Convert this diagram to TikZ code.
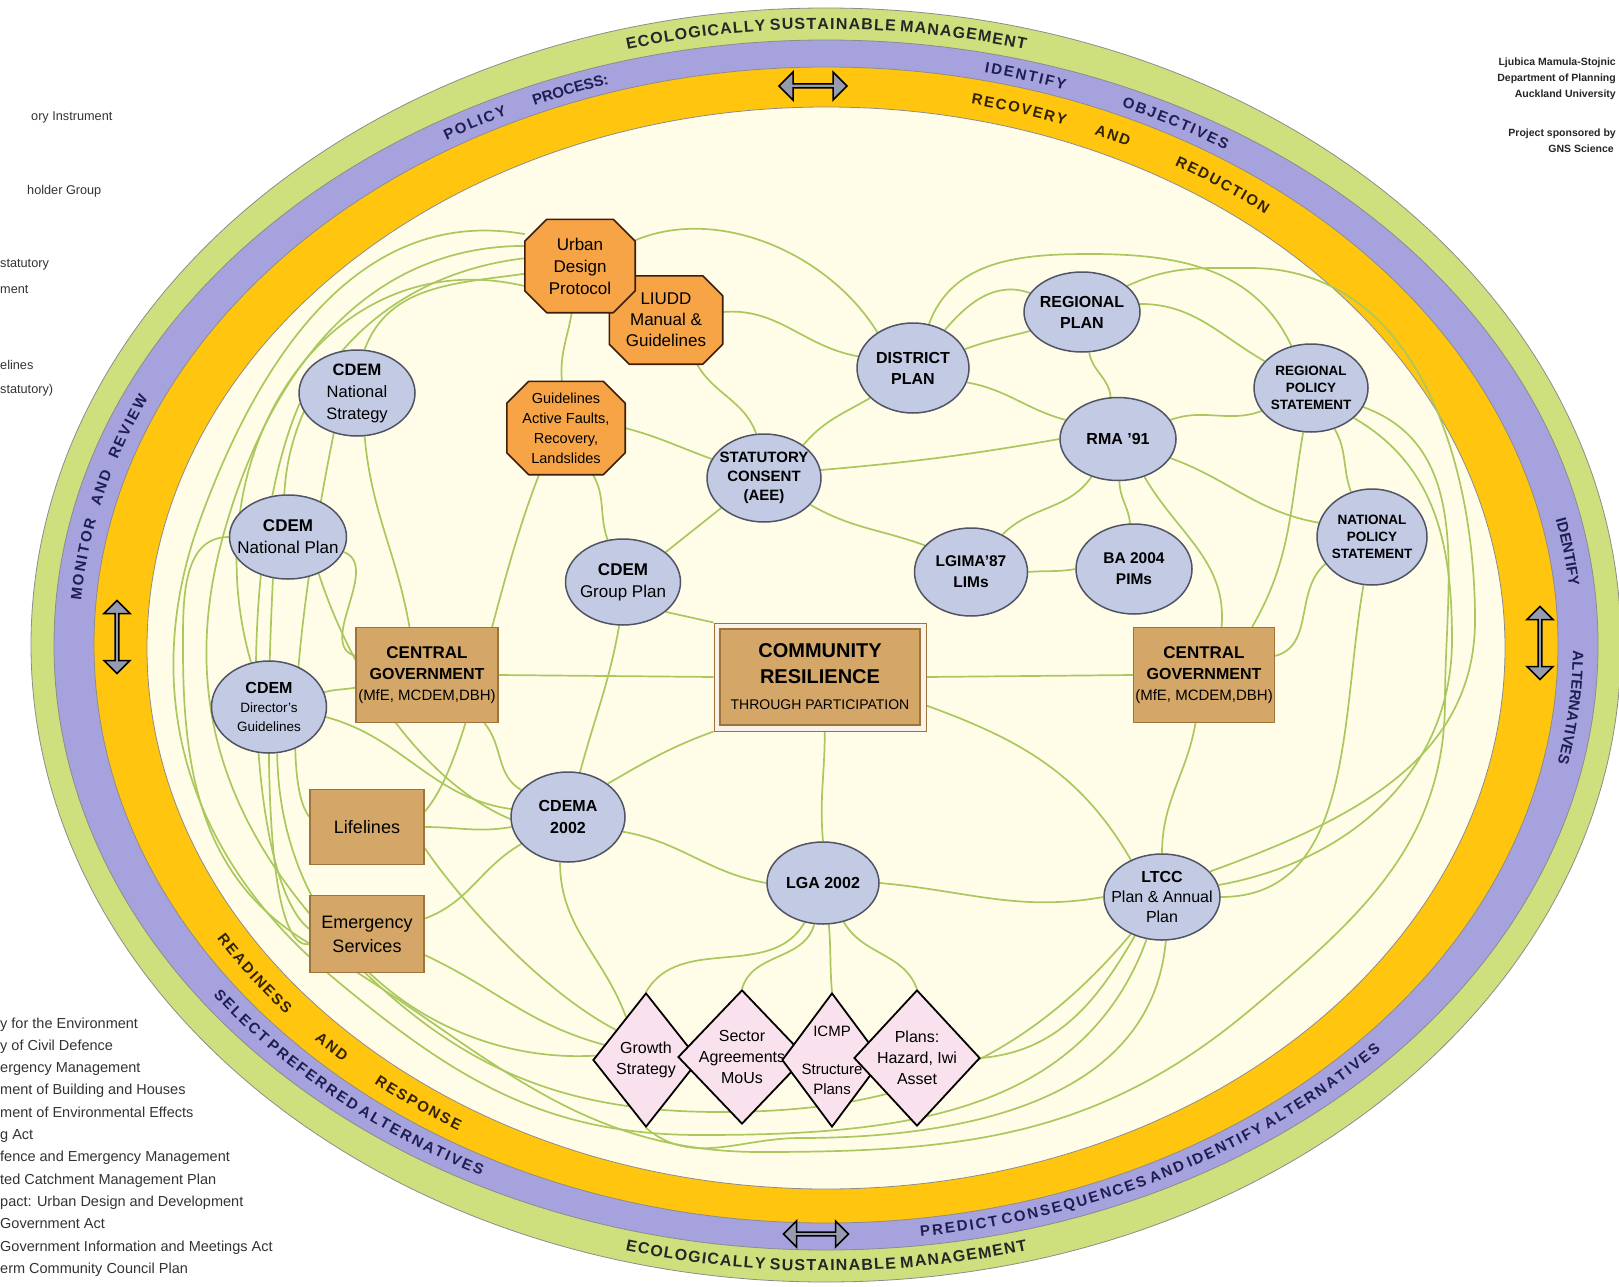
\documentclass[tikz,border=0pt]{standalone}
\usepackage{fontspec}
\setmainfont{Liberation Sans}
\usetikzlibrary{shapes.geometric,shapes.misc,shapes.arrows,decorations.text}
\newcommand\fsz[2]{\fontsize{#1}{#2}\selectfont}
\newcommand\kg{\kern1.2pt}
\newcommand\kp{\kern2pt}
\newcommand\ky{\kern1.8pt}
\newcommand\kw{\kern14pt}
\definecolor{ringgreen}{RGB}{206,224,126}
\definecolor{ringpurple}{RGB}{166,162,222}
\definecolor{ringyellow}{RGB}{255,197,15}
\definecolor{cream}{RGB}{255,253,231}
\definecolor{octfill}{RGB}{246,164,70}
\definecolor{octborder}{RGB}{60,30,10}
\definecolor{ellfill}{RGB}{194,203,227}
\definecolor{ellborder}{RGB}{80,84,100}
\definecolor{tanfill}{RGB}{212,167,104}
\definecolor{tanborder}{RGB}{160,115,60}
\definecolor{pinkfill}{RGB}{249,226,238}
\definecolor{linkgreen}{RGB}{170,200,95}
\definecolor{arrowgray}{RGB}{150,155,175}
\definecolor{navy}{RGB}{30,30,80}
\definecolor{darkbrown}{RGB}{50,35,5}
\pgfdeclarelayer{ringlayer}
\pgfdeclarelayer{linklayer}
\pgfsetlayers{ringlayer,linklayer,main}
% shape node + separate text node
\newcommand\nd[7]{\node[#1,minimum width=#4pt,minimum height=#5pt] (#2) at (#3) {};\node[align=center,inner sep=0pt,font=#6] (#2t) at (#2.center) {#7};}
% octagon: name, xy, w, h, chamfer, font, text
\newcommand\octnode[7]{%
  \node[minimum width=#3pt,minimum height=#4pt,inner sep=0pt] (#1) at (#2) {};
  \filldraw[fill=octfill,draw=octborder,line width=1.6pt,line join=round]
    ([xshift=#5pt]#1.north west) -- ([xshift=-#5pt]#1.north east) -- ([yshift=-#5pt]#1.north east)
    -- ([yshift=#5pt]#1.south east) -- ([xshift=-#5pt]#1.south east) -- ([xshift=#5pt]#1.south west)
    -- ([yshift=#5pt]#1.south west) -- ([yshift=-#5pt]#1.north west) -- cycle;
  \node[align=center,inner sep=0pt,font=#6] (#1t) at (#1.center) {#7};}
\begin{document}
\begin{tikzpicture}[x=1pt,y=1pt,
  link/.style={draw=linkgreen,line width=1.7pt},
  ellnode/.style={ellipse,fill=ellfill,draw=ellborder,line width=1.5pt,inner sep=0pt},
  tanbox/.style={rectangle,fill=tanfill,draw=tanborder,line width=1.4pt,inner sep=0pt},
  diam/.style={diamond,fill=pinkfill,draw=black,line width=1.8pt,inner sep=0pt},
  dblarrow/.style={double arrow,double arrow head extend=4.5pt,fill=arrowgray,draw=black,line width=1.5pt,inner sep=0pt},
  ringband/.style={line width=0.8pt,draw=black!45},
  legend/.style={anchor=base west,inner sep=0pt,font=\fsz{12.7}{15},text=black!80}
]
\useasboundingbox (0,0) rectangle (1619,-1287);

%================ rings =================
\begin{pgfonlayer}{ringlayer}
\fill[white] (0,0) rectangle (1619,-1287);
\filldraw[ringband,fill=ringgreen] (826,-645) ellipse[x radius=795,y radius=637];
\filldraw[ringband,fill=ringpurple] (826,-645) ellipse[x radius=772,y radius=605];
\filldraw[ringband,fill=ringyellow] (826,-645) ellipse[x radius=732,y radius=578];
\filldraw[ringband,fill=cream] (826,-648) ellipse[x radius=679,y radius=541];

% green band texts
\path[decorate,decoration={text along path,text align=center,raise=-5pt,
  text={|\fsz{16}{16}\bfseries\color{black!85}|E{\kg}C{\kg}O{\kg}L{\kg}O{\kg}G{\kg}I{\kg}C{\kg}A{\kg}L{\kg}L{\kg}Y S{\kg}U{\kg}S{\kg}T{\kg}A{\kg}I{\kg}N{\kg}A{\kg}B{\kg}L{\kg}E M{\kg}A{\kg}N{\kg}A{\kg}G{\kg}E{\kg}M{\kg}E{\kg}N{\kg}T}}]
  (826,-645) ++(125:783 and 621) arc[start angle=125,end angle=55,x radius=783,y radius=621];
\path[decorate,decoration={text along path,text align=center,raise=-5pt,
  text={|\fsz{16}{16}\bfseries\color{black!85}|E{\kg}C{\kg}O{\kg}L{\kg}O{\kg}G{\kg}I{\kg}C{\kg}A{\kg}L{\kg}L{\kg}Y S{\kg}U{\kg}S{\kg}T{\kg}A{\kg}I{\kg}N{\kg}A{\kg}B{\kg}L{\kg}E M{\kg}A{\kg}N{\kg}A{\kg}G{\kg}E{\kg}M{\kg}E{\kg}N{\kg}T}}]
  (826,-645) ++(235:783 and 621) arc[start angle=235,end angle=305,x radius=783,y radius=621];

% purple band texts
\path[decorate,decoration={text along path,text align=center,raise=-5pt,
  text={|\fsz{15}{15}\bfseries\color{navy}|P{\kp}O{\kp}L{\kp}I{\kp}C{\kp}Y}}]
  (826,-645) ++(128:752 and 591) arc[start angle=128,end angle=108,x radius=752,y radius=591];
\path[decorate,decoration={text along path,text align=center,raise=-5pt,
  text={|\fsz{15}{15}\bfseries\color{navy}|PROCESS:}}]
  (826,-645) ++(120:752 and 591) arc[start angle=120,end angle=100,x radius=752,y radius=591];
\path[decorate,decoration={text along path,text align=center,raise=-5pt,
  text={|\fsz{15}{15}\bfseries\color{navy}|I{\kp}D{\kp}E{\kp}N{\kp}T{\kp}I{\kp}F{\kp}Y}}]
  (826,-645) ++(85:752 and 591) arc[start angle=85,end angle=64,x radius=752,y radius=591];
\path[decorate,decoration={text along path,text align=center,raise=-5pt,
  text={|\fsz{15}{15}\bfseries\color{navy}|O{\kp}B{\kp}J{\kp}E{\kp}C{\kp}T{\kp}I{\kp}V{\kp}E{\kp}S}}]
  (826,-645) ++(75:752 and 591) arc[start angle=75,end angle=49,x radius=752,y radius=591];
\path[decorate,decoration={text along path,text align=center,raise=-5pt,
  text={|\fsz{15}{15}\bfseries\color{navy}|M{\kp}O{\kp}N{\kp}I{\kp}T{\kp}O{\kp}R{\kw}A{\kp}N{\kp}D{\kw}R{\kp}E{\kp}V{\kp}I{\kp}E{\kp}W}}]
  (826,-645) ++(192:752 and 591) arc[start angle=192,end angle=140,x radius=752,y radius=591];
\path[decorate,decoration={text along path,text align=center,raise=-5pt,
  text={|\fsz{15}{15}\bfseries\color{navy}|IDENTIFY}}]
  (826,-645) ++(20:752 and 591) arc[start angle=20,end angle=-2,x radius=752,y radius=591];
\path[decorate,decoration={text along path,text align=center,raise=-5pt,
  text={|\fsz{15}{15}\bfseries\color{navy}|ALTERNATIVES}}]
  (826,-645) ++(8:752 and 591) arc[start angle=8,end angle=-20,x radius=752,y radius=591];
\path[decorate,decoration={text along path,text align=center,raise=-5pt,
  text={|\fsz{15}{15}\bfseries\color{navy}|S{\kp}E{\kp}L{\kp}E{\kp}C{\kp}T P{\kp}R{\kp}E{\kp}F{\kp}E{\kp}R{\kp}R{\kp}E{\kp}D A{\kp}L{\kp}T{\kp}E{\kp}R{\kp}N{\kp}A{\kp}T{\kp}I{\kp}V{\kp}E{\kp}S}}]
  (826,-645) ++(203:752 and 591) arc[start angle=203,end angle=254,x radius=752,y radius=591];
\path[decorate,decoration={text along path,text align=center,raise=-5pt,
  text={|\fsz{15}{15}\bfseries\color{navy}|P{\kp}R{\kp}E{\kp}D{\kp}I{\kp}C{\kp}T C{\kp}O{\kp}N{\kp}S{\kp}E{\kp}Q{\kp}U{\kp}E{\kp}N{\kp}C{\kp}E{\kp}S A{\kp}N{\kp}D I{\kp}D{\kp}E{\kp}N{\kp}T{\kp}I{\kp}F{\kp}Y A{\kp}L{\kp}T{\kp}E{\kp}R{\kp}N{\kp}A{\kp}T{\kp}I{\kp}V{\kp}E{\kp}S}}]
  (826,-645) ++(266:752 and 591) arc[start angle=266,end angle=330,x radius=752,y radius=591];

% yellow band texts
\path[decorate,decoration={text along path,text align=center,raise=-5pt,
  text={|\fsz{15}{15}\bfseries\color{darkbrown}|R{\ky}E{\ky}C{\ky}O{\ky}V{\ky}E{\ky}R{\ky}Y}}]
  (826,-647) ++(85:706 and 560) arc[start angle=85,end angle=63,x radius=706,y radius=560];
\path[decorate,decoration={text along path,text align=center,raise=-5pt,
  text={|\fsz{15}{15}\bfseries\color{darkbrown}|A{\ky}N{\ky}D}}]
  (826,-647) ++(71:706 and 560) arc[start angle=71,end angle=61,x radius=706,y radius=560];
\path[decorate,decoration={text along path,text align=center,raise=-5pt,
  text={|\fsz{15}{15}\bfseries\color{darkbrown}|R{\ky}E{\ky}D{\ky}U{\ky}C{\ky}T{\ky}I{\ky}O{\ky}N}}]
  (826,-647) ++(68:706 and 560) arc[start angle=68,end angle=43,x radius=706,y radius=560];
\path[decorate,decoration={text along path,text align=center,raise=-5pt,
  text={|\fsz{15}{15}\bfseries\color{darkbrown}|R{\ky}E{\ky}A{\ky}D{\ky}I{\ky}N{\ky}E{\ky}S{\ky}S}}]
  (826,-647) ++(203:706 and 560) arc[start angle=203,end angle=228,x radius=706,y radius=560];
\path[decorate,decoration={text along path,text align=center,raise=-5pt,
  text={|\fsz{15}{15}\bfseries\color{darkbrown}|A{\ky}N{\ky}D}}]
  (826,-647) ++(220:706 and 560) arc[start angle=220,end angle=231,x radius=706,y radius=560];
\path[decorate,decoration={text along path,text align=center,raise=-5pt,
  text={|\fsz{15}{15}\bfseries\color{darkbrown}|R{\ky}E{\ky}S{\ky}P{\ky}O{\ky}N{\ky}S{\ky}E}}]
  (826,-647) ++(224:706 and 560) arc[start angle=224,end angle=245,x radius=706,y radius=560];
\end{pgfonlayer}

%================ arrows on rings =================
\node[dblarrow,minimum height=68pt,minimum width=28pt] (arrT) at (813,-86) {};
\node[dblarrow,minimum height=65pt,minimum width=26pt] (arrB) at (816,-1234) {};
\node[dblarrow,minimum height=73pt,minimum width=26pt,rotate=90] (arrL) at (117,-637) {};
\node[dblarrow,minimum height=73pt,minimum width=26pt,rotate=90] (arrR) at (1540,-643) {};

%================ nodes =================
\octnode{LIUDD}{666,-320}{113}{88}{20}{\fsz{17}{21}}{LIUDD\\Manual \&\\Guidelines}
\octnode{UDP}{580,-266}{110}{93}{22}{\fsz{17}{22}}{Urban\\Design\\Protocol}
\octnode{GAF}{566,-428}{118}{93}{22}{\fsz{14.5}{20}}{Guidelines\\Active Faults,\\Recovery,\\Landslides}

\nd{ellnode}{CNS}{357,-393}{116}{86}{\fsz{16.5}{22}}{\textbf{CDEM}\\National\\Strategy}
\nd{ellnode}{CNP}{288,-537}{117}{84}{\fsz{17}{22}}{\textbf{CDEM}\\National Plan}
\nd{ellnode}{CDG}{269,-707}{115}{92}{\fsz{13.5}{19}}{{\fsz{16}{19}\textbf{CDEM}}\\Director's\\Guidelines}
\nd{ellnode}{CGP}{623,-582}{115}{86}{\fsz{17}{22}}{\textbf{CDEM}\\Group Plan}
\nd{ellnode}{SC}{764,-478}{114}{88}{\bfseries\fsz{15}{19}}{STATUTORY\\CONSENT\\(AEE)}
\nd{ellnode}{DP}{913,-368}{112}{90}{\bfseries\fsz{16}{21}}{DISTRICT\\PLAN}
\nd{ellnode}{RP}{1082,-312}{116}{80}{\bfseries\fsz{16}{21}}{REGIONAL\\PLAN}
\nd{ellnode}{RPS}{1311,-388}{114}{88}{\bfseries\fsz{13.5}{17}}{REGIONAL\\POLICY\\STATEMENT}
\nd{ellnode}{RMA}{1118,-439}{116}{83}{\bfseries\fsz{16}{20}}{RMA '91}
\nd{ellnode}{LGIMA}{971,-572}{113}{88}{\bfseries\fsz{15.5}{21}}{LGIMA'87\\LIMs}
\nd{ellnode}{BA}{1134,-569}{116}{90}{\bfseries\fsz{15.5}{21}}{BA 2004\\PIMs}
\nd{ellnode}{NPS}{1372,-537}{110}{96}{\bfseries\fsz{13.5}{17}}{NATIONAL\\POLICY\\STATEMENT}
\nd{ellnode}{CDEMA}{568,-817}{114}{90}{\bfseries\fsz{16}{22}}{CDEMA\\2002}
\nd{ellnode}{LGA}{823,-883}{112}{82}{\bfseries\fsz{16}{20}}{LGA 2002}
\nd{ellnode}{LTCC}{1162,-897}{116}{86}{\fsz{16}{20}}{\textbf{LTCC}\\Plan \& Annual\\Plan}

\nd{tanbox}{CGL}{427,-675}{142}{95}{\fsz{15}{21}}{\textbf{\fsz{17}{21}CENTRAL}\\\textbf{\fsz{16}{21}GOVERNMENT}\\(MfE, MCDEM,DBH)}
\nd{tanbox}{CGR}{1204,-675}{141}{95}{\fsz{15}{21}}{\textbf{\fsz{17}{21}CENTRAL}\\\textbf{\fsz{16}{21}GOVERNMENT}\\(MfE, MCDEM,DBH)}
\nd{tanbox}{LIFE}{367,-827}{114}{75}{\fsz{18}{22}}{Lifelines}
\nd{tanbox}{ES}{367,-934}{114}{77}{\fsz{18}{24}}{Emergency\\Services}

\node[rectangle,fill=white!85!tanfill,draw=tanborder,line width=1pt,minimum width=212pt,minimum height=108pt,inner sep=0pt,
  path picture={\filldraw[fill=tanfill,draw=tanborder,line width=1.2pt]
    ([shift={(6,6)}]path picture bounding box.south west) rectangle ([shift={(-6,-6)}]path picture bounding box.north east);}]
  (CR) at (820,-677) {};
\node[align=center,inner sep=0pt,font=\fsz{14}{26}] (CRt) at (820,-677)
  {\textbf{\fsz{20}{26}COMMUNITY}\\\textbf{\fsz{20}{26}RESILIENCE}\\THROUGH PARTICIPATION};

\nd{diam}{GS}{646,-1060}{106}{134}{\fsz{16}{21}}{Growth\\Strategy}
\nd{diam}{SA}{742,-1057}{128}{134}{\fsz{16}{21}}{Sector\\Agreements\\MoUs}
\nd{diam}{ICMP}{832,-1060}{100}{134}{\fsz{15}{20}}{ICMP\\[18pt]Structure\\Plans}
\nd{diam}{PH}{917,-1058}{126}{136}{\fsz{16}{21}}{Plans:\\Hazard, Iwi\\Asset}

%================ text blocks =================
\node[legend] (lg1) at (31,-121) {ory Instrument};
\node[legend] (lg2) at (27,-194) {holder Group};
\node[legend] (lg3) at (0,-267) {statutory};
\node[legend] (lg4) at (0,-293) {ment};
\node[legend] (lg5) at (0,-369) {elines};
\node[legend] (lg6) at (0,-393) {statutory)};
\foreach \t [count=\i] in {y for the Environment,y of Civil Defence,ergency Management,ment of Building and Houses,ment of Environmental Effects,g Act,fence and Emergency Management,ted Catchment Management Plan,pact: Urban Design and Development,Government Act,Government Information and Meetings Act,erm Community Council Plan}
  \node[legend,font=\fsz{14.5}{16}] (bl\i) at (0,{-1028-22.3*(\i-1)}) {\t};

\node[anchor=base east,inner sep=0pt,font=\bfseries\fsz{10.5}{15.5},text=black!85] (auth) at (1616,-66) {Ljubica Mamula-Stojnic};
\node[anchor=base east,inner sep=0pt,font=\bfseries\fsz{10.5}{15.5},text=black!85] (auth2) at (1616,-82) {Department of Planning};
\node[anchor=base east,inner sep=0pt,font=\bfseries\fsz{10.5}{15.5},text=black!85] (auth3) at (1616,-98) {Auckland University};
\node[anchor=base east,inner sep=0pt,font=\bfseries\fsz{10.5}{15.5},text=black!85] (spon1) at (1616,-136) {Project sponsored by};
\node[anchor=base east,inner sep=0pt,font=\bfseries\fsz{10.5}{15.5},text=black!85] (spon2) at (1614,-152) {GNS Science};

%================ connectors =================
\begin{pgfonlayer}{linklayer}
\coordinate (la1) at (200,-520); \coordinate (la2) at (330,-975); \coordinate (la3) at (700,-1135);
\coordinate (lb1) at (222,-540); \coordinate (lb2) at (352,-960); \coordinate (lb3) at (720,-1112);
\coordinate (lc1) at (183,-650); \coordinate (lc2) at (312,-945); \coordinate (lc3) at (760,-1152);
\coordinate (lc4) at (1250,-1010); \coordinate (lc5) at (1445,-700);
\coordinate (rw1) at (1452,-640); \coordinate (rw2) at (1475,-620); \coordinate (rw3) at (1250,-268);
\coordinate (tw1) at (1090,-254);
\coordinate (bw1) at (800,-1138);

% central
\draw[link] (CGL.east) -- (CR.west);
\draw[link] (CR.east) -- (CGR.west);
\draw[link] (CR.north west) -- (CGP.-35);
\draw[link] (CGP.35) -- (SC.215);
\draw[link] (CR.south west) to[out=200,in=30] (CDEMA.40);
\draw[link] (CR.275) to[out=-90,in=95] (LGA.north);
\draw[link] (CR.-15) to[out=-20,in=120] (LTCC.130);
\draw[link] (CDEMA.-15) to[out=-10,in=170] (LGA.west);
\draw[link] (LGA.east) to[out=-5,in=190] (LTCC.west);
\draw[link] (CGR.260) to[out=-100,in=90] (LTCC.north);
% LGA to diamonds
\draw[link] (LGA.245) to[out=-120,in=60] (GS.north);
\draw[link] (LGA.258) to[out=-105,in=75] (SA.north);
\draw[link] (LGA.278) to[out=-85,in=95] (ICMP.north);
\draw[link] (LGA.298) to[out=-60,in=110] (PH.north);
\draw[link] (PH.east) to[out=5,in=-120] (LTCC.235);
\draw[link] (GS.south) to[out=-40,in=180] (bw1) to[out=0,in=-95] (LTCC.-85);
% upper middle
\draw[link] (SC.100) to[out=110,in=-60] (LIUDD.-55);
\draw[link] (SC.160) to[out=160,in=-15] (GAF.east);
\draw[link] (SC.40) to[out=50,in=-150] (DP.215);
\draw[link] (SC.8) to[out=5,in=190] (RMA.west);
\draw[link] (SC.-30) to[out=-30,in=160] (LGIMA.150);
\draw[link] (DP.20) to[out=20,in=-165] (RP.200);
\draw[link] (DP.-15) to[out=-10,in=165] (RMA.160);
\draw[link] (RP.-80) to[out=-80,in=95] (RMA.100);
\draw[link] (RP.8) to[out=0,in=150] (RPS.150);
\draw[link] (RMA.20) to[out=20,in=200] (RPS.205);
\draw[link] (RMA.-20) to[out=-20,in=170] (NPS.165);
\draw[link] (RMA.235) to[out=-125,in=45] (LGIMA.50);
\draw[link] (RMA.-88) to[out=-90,in=95] (BA.95);
\draw[link] (LGIMA.east) to[out=5,in=190] (BA.west);
\draw[link] (RMA.-55) to[out=-60,in=85] (CGR.70);
\draw[link] (RPS.-100) to[out=-100,in=60] (CGR.45);
\draw[link] (NPS.210) to[out=-140,in=15] (CGR.15);
\draw[link] (RPS.-60) to[out=-60,in=110] (NPS.115);
\draw[link] (UDP.25) .. controls (720,-205) and (830,-255) .. (DP.135);
\draw[link] (LIUDD.8) to[out=5,in=170] (DP.168);
\draw[link] (DP.70) to[out=70,in=180] (tw1) to[out=0,in=115] (RPS.115);
\draw[link] (DP.50) to[out=50,in=160] (RP.160);
% octagons / left
\draw[link] (UDP.-100) to[out=-100,in=95] (GAF.95);
\draw[link] (GAF.-60) to[out=-60,in=110] (CGP.110);
\draw[link] (GAF.-120) .. controls (490,-600) and (470,-760) .. (LIFE.15);
\draw[link] (CNS.-80) to[out=-85,in=100] (CGL.110);
\draw[link] (CGL.-40) to[out=-50,in=150] (CDEMA.150);
\draw[link] (CGP.-95) to[out=-100,in=75] (CDEMA.75);
\draw[link] (LIFE.east) to[out=0,in=190] (CDEMA.190);
\draw[link] (ES.15) to[out=20,in=-150] (CDEMA.-150);
\draw[link] (CDG.-10) to[out=-15,in=172] (CDEMA.172);
\draw[link] (CDG.15) to[out=15,in=190] (CGL.190);
\draw[link] (CNP.-15) to[out=-20,in=165] (CGL.165);
\draw[link] (CNP.-50) .. controls (360,-700) and (440,-790) .. (CDEMA.182);
\draw[link] (CNS.80) to[out=70,in=188] (UDP.188);
\draw[link] (CNP.95) .. controls (290,-380) and (380,-275) .. (UDP.172);
\draw[link] (CDG.112) .. controls (190,-450) and (330,-240) .. (UDP.200);
\draw[link] (CNS.-120) .. controls (300,-600) and (280,-780) .. (LIFE.170);
\draw[link] (CNS.190) .. controls (235,-550) and (245,-880) .. (ES.175);
\draw[link] (CNP.-110) .. controls (262,-800) and (272,-950) .. (ES.190);
\draw[link] (CDG.-80) .. controls (280,-950) and (440,-1065) .. (GS.175);
\draw[link] (ES.-20) to[out=-25,in=165] (GS.160);
\draw[link] (LIFE.-20) .. controls (460,-900) and (540,-990) .. (GS.135);
\draw[link] (CDEMA.-100) to[out=-90,in=110] (GS.115);
% big loops
\draw[link] (UDP.150) to[out=170,in=70] (la1) to[out=-110,in=140] (la2) to[out=-40,in=180] (la3) to[out=0,in=-110] (LTCC.-110);
\draw[link] (UDP.160) to[out=180,in=75] (lb1) to[out=-105,in=135] (lb2) to[out=-45,in=180] (lb3) to[out=0,in=-130] (LTCC.-130);
\draw[link] (CNP.west) to[out=180,in=90] (lc1) to[out=-90,in=150] (lc2) to[out=-30,in=180] (lc3) to[out=0,in=-140] (lc4) to[out=40,in=-90] (lc5) to[out=90,in=-20] (RPS.-20);
% right side
\draw[link] (LTCC.east) to[out=0,in=-100] (NPS.-100);
\draw[link] (LTCC.12) to[out=10,in=-90] (rw1) to[out=90,in=-30] (RPS.-35);
\draw[link] (LTCC.28) to[out=20,in=-90] (rw2) to[out=90,in=0] (rw3) to[out=180,in=25] (RP.30);
\end{pgfonlayer}
\end{tikzpicture}
\end{document}
